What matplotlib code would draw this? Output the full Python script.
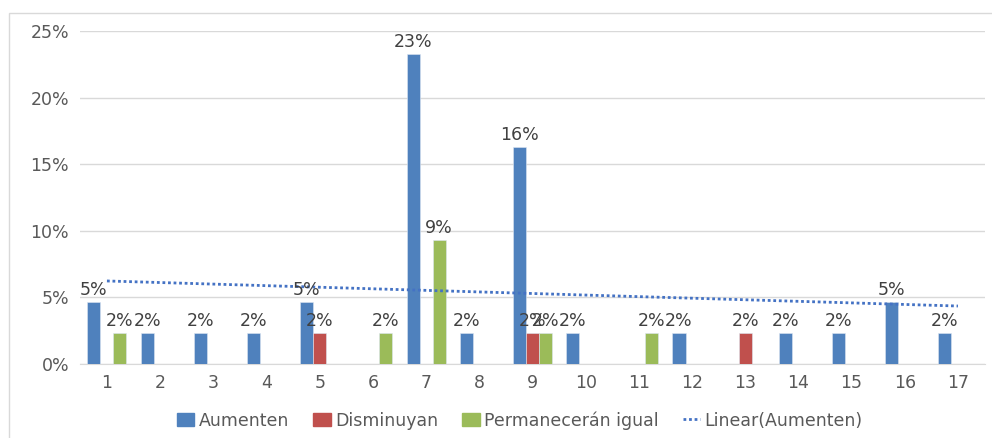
import numpy as np
import matplotlib.pyplot as plt
from matplotlib.patches import Rectangle
from matplotlib.lines import Line2D
from matplotlib.ticker import PercentFormatter

plt.rcParams['font.family'] = ['DejaVu Sans']

# Data (share of responses, blank where no bar)
categories = list(range(1, 18))
aumenten = [4.65, 2.33, 2.33, 2.33, 4.65, np.nan, 23.26, 2.33, 16.28, 2.33,
            np.nan, 2.33, np.nan, 2.33, 2.33, 4.65, 2.33]
disminuyan = [np.nan, np.nan, np.nan, np.nan, 2.33, np.nan, np.nan, np.nan, 2.33, np.nan,
              np.nan, np.nan, 2.33, np.nan, np.nan, np.nan, np.nan]
permaneceran = [2.33, np.nan, np.nan, np.nan, np.nan, 2.33, 9.30, np.nan, 2.33, np.nan,
                2.33, np.nan, np.nan, np.nan, np.nan, np.nan, np.nan]

series = [
    ('Aumenten', np.array(aumenten) / 100, '#4F81BD'),
    ('Disminuyan', np.array(disminuyan) / 100, '#C0504D'),
    ('Permanecerán igual', np.array(permaneceran) / 100, '#9BBB59'),
]

fig = plt.figure(figsize=(9.92, 4.38), dpi=100)
ax = fig.add_axes([0.081, 0.169, 0.9115, 0.760])

# outer chart frame
fig.patches.append(Rectangle((9 / 992, -0.05), 1.0, 1 - 13 / 438 + 0.05,
                             transform=fig.transFigure, fill=False,
                             edgecolor='#D9D9D9', linewidth=1.0))

x = np.array(categories, dtype=float)
width = 0.245
for i, (name, vals, color) in enumerate(series):
    pos = x + (i - 1) * width
    mask = ~np.isnan(vals)
    ax.bar(pos[mask], vals[mask], width=width, color=color,
           edgecolor='#DCE6F2', linewidth=0.4, zorder=3)
    for px, v in zip(pos[mask], vals[mask]):
        ax.text(px, v + 0.0022, f'{v * 100:.0f}%', ha='center', va='bottom',
                fontsize=12.5, color='#404040', zorder=5)

# linear trend of Aumenten (blank categories excluded)
a = np.array(aumenten) / 100
m = ~np.isnan(a)
slope, intercept = np.polyfit(x[m], a[m], 1)
ax.plot([x[0], x[-1]], [slope * x[0] + intercept, slope * x[-1] + intercept],
        color='#4472C4', linestyle=(0, (1, 1)), linewidth=2, zorder=4)

ax.set_xlim(0.5, 17.5)
ax.set_ylim(0, 0.25)
ax.set_yticks(np.arange(0, 0.26, 0.05))
ax.yaxis.set_major_formatter(PercentFormatter(1.0, decimals=0))
ax.set_xticks(x)
ax.set_xticklabels([str(c) for c in categories])
ax.tick_params(axis='both', length=0, labelsize=12.5, labelcolor='#595959')
ax.tick_params(axis='y', pad=8)
ax.tick_params(axis='x', pad=7)
ax.grid(axis='y', color='#D9D9D9', linewidth=1, zorder=0)
for s in ['top', 'right', 'left']:
    ax.spines[s].set_visible(False)
ax.spines['bottom'].set_color('#D9D9D9')

handles = [Rectangle((0, 0), 1, 1, color=c) for _, _, c in series]
handles.append(Line2D([0], [0], color='#4472C4', linestyle=(0, (1, 1)), linewidth=2))
labels = [n for n, _, _ in series] + ['Linear(Aumenten)']
fig.legend(handles, labels, loc='center', bbox_to_anchor=(0.524, 0.04), ncol=4,
           frameon=False, fontsize=12.5, labelcolor='#595959',
           handlelength=1.0, handleheight=0.8, handletextpad=0.25, columnspacing=1.4)

fig.savefig('out.png', dpi=100)
